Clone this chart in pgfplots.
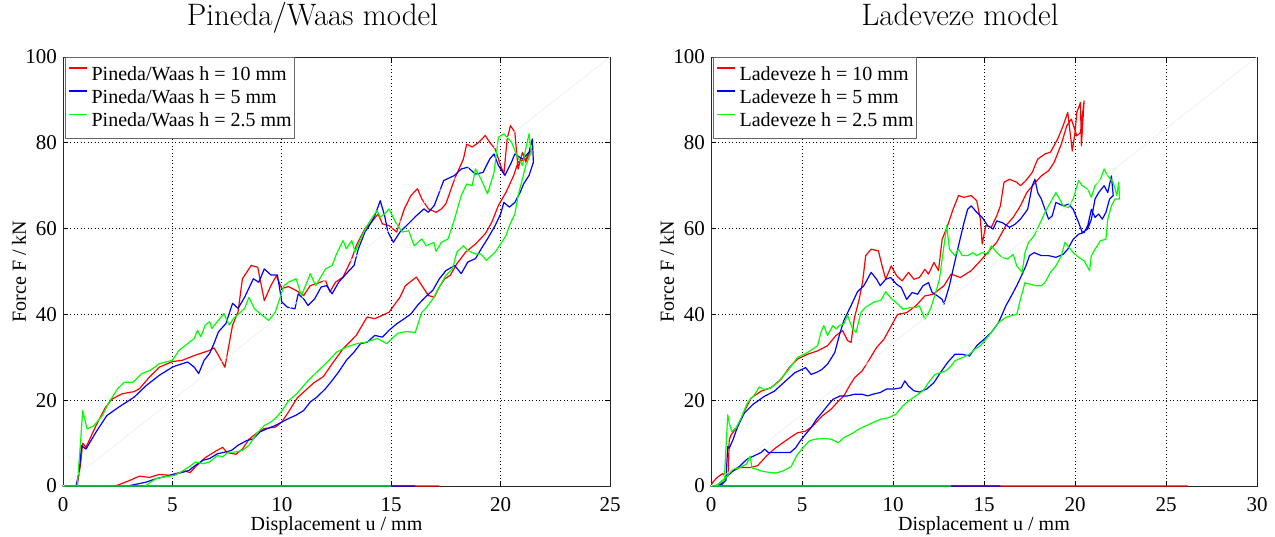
\documentclass[border=0pt]{standalone}
\usepackage{fontspec}
\usepackage{pgfplots}
\pgfplotsset{compat=1.18}
\newfontfamily\tnr{Liberation Serif}
\begin{document}
\begin{tikzpicture}[x=1pt,y=1pt]
\useasboundingbox (0,0) rectangle (1275,-537);
\pgfplotsset{
 myaxis/.style={
  scale only axis, width=547pt, height=429pt,
  ymin=0, ymax=100, ytick={0,20,...,100},
  grid=major, major grid style={black, line width=0.9pt, dash pattern=on 0.9pt off 2.6pt},
  axis line style={black!85, line width=0.9pt},
  tick style={black, line width=0.8pt},
  tick align=inside, major tick length=5pt,
  /pgf/number format/assume math mode=true,
  tick label style={font=\tnr\fontsize{21}{21}\selectfont},
  xticklabel style={anchor=base, inner sep=0pt, yshift=-25.7pt},
  yticklabel style={anchor=east, inner sep=0pt, xshift=-6pt},
  label style={font=\tnr\fontsize{20}{20}\selectfont},
  xlabel style={at={(axis description cs:0.5,-0.1026)}, anchor=base},
  ylabel style={at={(axis description cs:-0.0804,0.5)}, anchor=center},
  title style={font=\fontsize{31}{31}\selectfont, at={(axis description cs:0.4561,1.059)}, anchor=base},
  xlabel={Displacement u / mm}, ylabel={Force F / kN},
  legend style={at={(axis description cs:0.004,1)}, anchor=north west, draw=black!60, line width=0.8pt,
    font=\tnr\fontsize{20}{20}\selectfont,
    nodes={inner sep=0pt, text height=17pt, text depth=6.3pt},
    inner xsep=3pt, inner ysep=5.7pt, row sep=0pt, column sep=3.4pt},
  legend cell align=left,
  legend image code/.code={\draw[#1,line width=1.6pt] (0pt,7pt) -- (18pt,7pt);},
  every axis plot/.append style={line width=1.2pt, line join=round},
  clip=false,
 }
}
\begin{axis}[myaxis, at={(63pt,-486pt)}, anchor=south west, xmin=0, xmax=25, xtick={0,5,...,25}, title={Pineda/Waas model}]
\addplot[color=red] coordinates {
(17.2,0) (0,0) (0.65,0) (0.8,5) (0.9,10) (1.05,9) (1.5,14) (1.95,18.4) (2.25,20.3) (2.7,21.5) (3.25,22) (3.5,22.7) (3.95,25.4) (4.4,27.7) (5.0,29) (5.45,29.3) (6.05,30.5) (6.7,31.6) (6.9,32.2) (7.1,30.5) (7.4,27.7) (7.75,37.5) (8.0,40.6) (8.2,48.3) (8.6,51.4) (8.9,51) (9.2,43.2) (9.5,46.7) (9.75,49) (10.0,46) (10.3,46.5) (10.65,45.6) (11.0,44.4) (11.3,46.7) (12.0,47.9) (12.2,45.2) (12.45,47.5) (12.8,48.7) (13.2,53) (13.4,56) (13.8,60) (14.1,61.5) (14.4,63.4) (14.6,61.1) (14.9,60.7) (15.25,59.2) (15.6,64.6) (15.9,67.7) (16.2,69.3) (16.4,66.9) (16.7,64.6) (17.05,63.8) (17.3,64.6) (17.5,65.8) (17.9,71.6) (18.3,76.2) (18.45,79.7) (18.7,79) (19.0,80.1) (19.3,81.7) (19.5,80.1) (19.75,78.6) (20.0,74.7) (20.15,72.7) (20.3,80.9) (20.45,84) (20.65,82.5) (20.8,73.9) (21.0,77.8) (21.15,75.5) (21.4,78.6)
(21.15,76.2) (20.8,75.5) (20.6,72.4) (20.25,68.5) (19.9,65.4) (19.6,61.5) (19.3,58.8) (18.85,56.4) (18.4,54.5) (18.0,51.8) (17.7,49.1) (17.45,48.3) (17.2,46.4) (16.97,44) (16.7,44.4) (16.4,46.7) (16.15,48.7) (15.65,46.7) (15.4,44) (14.9,40.5) (14.25,39) (13.9,39.4) (13.4,35.1) (12.8,32) (12.3,28.5) (11.9,25.5) (11.45,24) (10.7,20.5) (10.3,17.2) (10.0,14.9) (9.7,13.7) (9.2,13.4) (8.9,12.5) (8.5,10.9) (8.2,8.6) (7.9,7.4) (7.5,7.8) (7.3,9.0) (7.0,8.2) (6.5,6.6) (6.1,4.7) (5.8,3.1) (5.6,3.5) (5.3,3.1) (4.85,2.5) (4.4,2.7) (3.95,2.0) (3.5,2.3) (3.0,1.2) (2.5,0.2) (2.3,0)};
\addlegendentry{Pineda/Waas h = 10 mm}
\addplot[color=blue] coordinates {
(16.1,0) (0,0) (0.6,0) (0.75,4) (0.85,9.4) (1.05,8.6) (1.5,12.5) (2.0,16.4) (2.55,18.4) (3.25,20.7) (3.8,23.4) (4.4,25.8) (5.0,27.7) (5.2,28.1) (5.7,28.9) (6.0,27.7) (6.2,26.2) (6.45,29.3) (6.7,30.9) (6.9,33.2) (7.1,35.9) (7.45,37.9) (7.75,42.6) (8.0,41.4) (8.3,44) (8.7,48.3) (8.95,47.5) (9.2,50.6) (9.5,49.2) (9.8,49.2) (10.0,42.9) (10.25,41.7) (10.6,41.3) (10.75,44.8) (11.0,43.6) (11.2,42.1) (11.5,43.6) (11.8,46.4) (12.05,46.7) (12.3,44.8) (12.6,47.5) (12.95,49.5) (13.3,51.4) (13.5,55.3) (13.8,59.2) (14.0,60.7) (14.25,63) (14.5,66.5) (14.7,63) (14.85,59.2) (15.1,56.8) (15.4,59.2) (15.7,60.7) (16.15,63) (16.5,64.6) (16.7,63.8) (16.97,65.4) (17.4,71.2) (17.9,72.4) (18.2,73.9) (18.5,74.3) (18.85,72.7) (19.2,73.1) (19.5,76.2) (19.7,77.4) (19.9,74.7) (20.2,72.4) (20.5,75.5) (20.65,77.4) (21.0,76.2) (21.3,77.8) (21.45,80.9) (21.5,75.5)
(21.3,72.4) (21.05,70.4) (20.9,68.5) (20.65,66.1) (20.4,65) (20.15,66.1) (20.0,63.4) (19.75,60.7) (19.4,57.6) (19.2,56) (18.85,53) (18.5,52.2) (18.2,49.5) (17.9,51.4) (17.5,50.2) (17.2,48.3) (16.9,45.6) (16.55,44) (16.2,42.1) (15.9,40.1) (15.6,39) (15.25,37.8) (14.9,36.3) (14.6,34.7) (14.25,35.1) (13.9,33.5) (13.6,33.2) (13.3,31.2) (12.95,29.3) (12.6,26.6) (12.3,24.6) (12.0,22.7) (11.6,20.7) (11.3,19.6) (11.0,17.6) (10.65,16.5) (10.3,15.7) (10.0,14.9) (9.7,14.1) (9.35,13.4) (9.0,12.6) (8.7,11) (8.4,10.6) (8.0,9.5) (7.7,8.3) (7.4,7.9) (7.05,7.5) (6.7,6.4) (6.4,6.0) (6.05,4.8) (5.75,3.6) (5.4,3.1) (4.75,2.3) (4.25,1.7) (3.8,0.9) (3.1,0.15) (3.0,0)};
\addlegendentry{Pineda/Waas h = 5 mm}
\addplot[color=green] coordinates {
(15,0) (0,0) (0.65,0) (0.8,10) (0.9,17.6) (1.1,13.3) (1.4,14) (1.8,16.4) (2.1,19.5) (2.5,22.7) (2.8,24.2) (3.2,24.2) (3.6,26.2) (4.0,27) (4.4,28.5) (4.7,28.9) (5.0,29.3) (5.3,31.6) (5.7,33.2) (6.0,34.4) (6.15,36.3) (6.3,34.8) (6.5,37.5) (6.7,38.3) (6.8,36.7) (7.05,38.3) (7.35,40.2) (7.6,37.5) (7.8,39.1) (8.05,40.2) (8.3,41.4) (8.5,44) (8.75,41.3) (9.1,39.8) (9.4,38.6) (9.7,40.5) (9.9,43.6) (10.1,46.7) (10.3,47.5) (10.65,48.3) (10.9,44.4) (11.15,47.5) (11.3,49.5) (11.55,46.7) (12.0,50.6) (12.3,51.4) (12.5,54.1) (12.8,57.2) (12.95,55.3) (13.2,57.2) (13.35,54.5) (13.6,57.6) (13.85,60.3) (14.1,62.3) (14.35,64.2) (14.5,62.7) (14.7,63.4) (14.9,64.6) (15.2,61.5) (15.5,59.2) (15.8,59.5) (16.05,56) (16.4,57.6) (16.6,56) (16.95,56.8) (17.05,54.7) (17.3,56.8) (17.6,57.6) (17.9,62.3) (18.2,67.7) (18.45,70.4) (18.7,70) (18.85,73.9) (19.1,71.6) (19.4,68.1) (19.7,73.1) (19.9,81.3) (20.15,82.1) (20.5,80.1) (20.75,77) (21.0,74.7) (21.15,78.6) (21.3,82.1) (21.4,77.8)
(21.15,74.7) (21.0,71.6) (20.8,67.7) (20.65,63.4) (20.4,60.7) (20.25,58.4) (20.0,56.4) (19.75,54.5) (19.5,53.3) (19.35,52.6) (19.1,54.1) (18.85,54.1) (18.5,54.9) (18.3,56) (18.0,54.5) (17.8,50.6) (17.5,49.1) (17.2,46.4) (16.9,43.6) (16.6,41.5) (16.4,40.5) (16.1,35.8) (15.7,36) (15.3,35.6) (14.8,33.2) (14.36,34.4) (13.9,33.6) (13.45,33.2) (13.0,32.5) (12.5,31.2) (12.1,29) (11.77,27.4) (11.15,24.3) (10.7,21.6) (10.3,19.8) (10.0,17.5) (9.75,16) (9.5,14.9) (9.2,14.1) (8.85,12.2) (8.5,9.5) (8.2,8.3) (7.85,7.9) (7.55,7.9) (7.3,6.8) (7.05,7.1) (6.7,5.6) (6.4,5.2) (6.05,5.6) (5.75,4.4) (5.4,3.3) (5.1,2.5) (4.6,2.1) (4.25,1.7) (3.8,0.15) (3.7,0)};
\addlegendentry{Pineda/Waas h = 2.5 mm}
\addplot[black!7, line width=0.6pt, forget plot] coordinates {(0,0) (25,100)};
\end{axis}
\begin{axis}[myaxis, at={(711pt,-486pt)}, anchor=south west, width=546pt, xmin=0, xmax=30, xtick={0,5,...,30}, title={Ladeveze model}]
\addplot[color=red] coordinates {
(26.2,0) (0,0) (0.1,0.9) (0.37,2.1) (0.64,2.9) (0.82,2.1) (0.95,3) (1.0,10.7) (1.1,11.9) (1.47,13.9) (1.83,17.4) (2.2,20.5) (2.75,22.1) (3.3,22.9) (3.85,24.9) (4.3,27.6) (4.76,29.6) (5.3,30.7) (5.86,31.5) (6.4,32.7) (6.87,35.1) (7.23,36.2) (7.5,33.9) (7.7,33.5) (7.87,39) (8.15,43.7) (8.33,47.6) (8.5,53.7) (8.8,55.2) (9.2,54.8) (9.4,51.3) (9.6,48.2) (9.9,51.3) (10.2,49) (10.5,47.8) (10.85,49.8) (11.15,48.2) (11.45,48.6) (11.75,50.5) (11.95,49.4) (12.25,52.1) (12.5,50.2) (12.7,57.5) (13.0,60.7) (13.3,64.5) (13.6,67.7) (13.9,67.3) (14.3,67.7) (14.6,66.5) (14.8,62.2) (14.9,56.4) (15.1,60.7) (15.4,60.3) (15.7,63) (15.9,65.3) (16.1,70.8) (16.4,71.5) (16.8,70.8) (17.0,70) (17.3,71.2) (17.65,73.1) (17.95,76.2) (18.35,77.4) (18.65,77.8) (19.05,80.9) (19.35,84) (19.6,87.1) (19.85,78.1) (20.0,82.4) (20.1,87.1) (20.3,89.4) (20.35,79.3) (20.5,89.8)
(20.3,82.4) (20.1,81.6) (19.8,85.5) (19.55,84) (19.25,79.7) (18.85,75.4) (18.55,73.5) (18.15,72.3) (17.75,70.4) (17.35,68.4) (17.0,65.3) (16.6,62.6) (16.2,60.7) (15.7,56.8) (15.2,54.4) (14.8,52.5) (14.3,50.2) (13.7,48.6) (13.2,49.4) (12.8,46.7) (12.2,44.7) (11.75,44.3) (11.25,42) (10.75,40.4) (10.25,40) (9.85,36.9) (9.5,34.2) (9.1,32.3) (8.7,29.5) (8.3,26.8) (7.9,25.3) (7.6,23.3) (7.3,21) (7.0,19.8) (6.6,17.9) (6.1,16.3) (5.6,14) (5.2,12.8) (4.75,12.4) (4.35,11.3) (3.95,10.1) (3.55,8.9) (3.05,7) (2.55,4.7) (2.15,4.3) (1.6,4.3) (1.2,3.5) (0.8,1.9) (0.4,0.4) (0.3,0)};
\addlegendentry{Ladeveze h = 10 mm}
\addplot[color=blue] coordinates {
(15.9,0) (0,0) (0.55,0.2) (0.82,1.3) (0.92,9.2) (1.0,8.8) (1.2,10.7) (1.47,13.9) (1.83,17) (2.3,19) (2.93,20.9) (3.48,22.1) (4.0,24.1) (4.6,26.4) (4.95,27.1) (5.2,27.6) (5.5,26) (5.86,26.6) (6.1,27.2) (6.4,28.4) (6.8,31.1) (7.05,35.1) (7.3,38.6) (7.7,42.1) (8.05,45.3) (8.4,46.7) (8.8,49.8) (9.1,48.2) (9.3,46.7) (9.6,48.2) (9.87,48.6) (10.2,47) (10.45,46.3) (10.75,43.5) (11.05,45.1) (11.35,44.7) (11.65,46.7) (11.95,47.4) (12.15,45.1) (12.45,44.3) (12.7,43.5) (12.8,42.4) (13.1,46.7) (13.3,50.5) (13.6,56) (13.9,61.4) (14.1,64.5) (14.3,65.3) (14.6,63.8) (14.9,62.6) (15.2,60.7) (15.5,59.9) (15.7,61.8) (16.0,61.4) (16.4,60.3) (16.7,61) (17.0,62.2) (17.4,64.5) (17.65,70) (17.8,71.5) (17.95,68.4) (18.15,66.9) (18.35,64.5) (18.55,62.2) (18.75,63) (18.95,66.1) (19.35,65.3) (19.65,65.7) (19.9,64.5) (20.2,61.4) (20.4,59.1) (20.7,59.9) (20.9,62.2) (21.1,66.9) (21.3,68.4) (21.6,70) (21.8,68.4) (22.0,72.3) (22.1,67.7)
(21.9,66.9) (21.7,63.8) (21.5,62.2) (21.3,63.4) (21.1,62.6) (20.9,64.5) (20.7,60.7) (20.5,59.1) (20.2,58.7) (19.9,57.5) (19.6,55.2) (19.35,54) (18.95,53.3) (18.55,53.7) (18.15,53.7) (17.75,54.4) (17.5,53.7) (17.3,51.3) (17.1,49.4) (16.8,46.7) (16.5,44.3) (16.2,42) (15.8,38.1) (15.4,35.8) (15.0,34.2) (14.6,32.7) (14.2,30.3) (13.8,30.7) (13.4,30.7) (13.0,28.8) (12.6,26.4) (12.25,24.1) (11.85,22.6) (11.45,21.9) (11.15,22.2) (10.85,23.3) (10.65,24.5) (10.45,22.9) (10.05,22.6) (9.65,22.6) (9.3,21.8) (8.9,21.4) (8.6,21) (8.3,21.4) (7.9,21.4) (7.5,21) (7.1,21) (6.7,20.2) (6.4,18.7) (6.1,17.1) (5.8,15.6) (5.5,13.6) (5.2,12.1) (4.9,10.5) (4.65,8.9) (4.35,7.8) (3.75,7.8) (3.15,7.8) (2.95,8.6) (2.75,7.8) (2.35,7) (1.95,6.2) (1.6,4.7) (1.2,3.5) (0.8,1.9) (0.5,0.4) (0.4,0)};
\addlegendentry{Ladeveze h = 5 mm}
\addplot[color=green] coordinates {
(13.2,0) (0,0) (0.3,0.15) (0.73,1.3) (0.92,16.6) (1.0,14.7) (1.14,12.7) (1.37,13.5) (1.65,15.8) (2.0,19.4) (2.4,21.3) (2.65,23.1) (2.93,22.5) (3.3,22.9) (3.66,24.1) (4.2,26.8) (4.76,30) (5.3,31.1) (5.86,32.7) (6.04,35.8) (6.2,37.4) (6.4,35.1) (6.7,37.4) (6.87,36.6) (7.05,37.4) (7.3,37.8) (7.5,39.8) (7.78,36.6) (7.97,35.8) (8.24,40.5) (8.5,41.7) (8.97,42.9) (9.34,43.3) (9.6,45.3) (9.9,43.7) (10.25,42.5) (10.55,41.2) (10.95,41.6) (11.25,41.6) (11.45,42) (11.75,38.9) (12.05,41.2) (12.35,45.1) (12.55,48.2) (12.75,54.4) (12.95,60.7) (13.1,55.2) (13.4,53.7) (13.6,55.2) (13.8,53.7) (14.1,53.7) (14.4,54.4) (14.6,53.7) (14.9,54.4) (15.2,54) (15.4,56) (15.7,54.4) (16.0,53.3) (16.3,52.9) (16.6,54) (16.8,51.3) (17.1,49.8) (17.25,54.4) (17.45,56.8) (17.75,58.3) (18.05,61) (18.35,63.8) (18.65,66.1) (18.95,68.4) (19.15,66.9) (19.35,65.3) (19.65,64.9) (19.9,66.9) (20.2,71.2) (20.4,70) (20.7,69.2) (20.9,67.3) (21.1,70) (21.4,71.5) (21.6,73.9) (21.8,72.3) (22.1,70.8) (22.3,67.7) (22.4,70.8) (22.45,66.9)
(22.2,66.9) (22.0,65.3) (21.8,62.2) (21.7,57.5) (21.4,57.2) (21.1,55.2) (20.9,53.7) (20.8,50.2) (20.5,52.5) (20.2,53.3) (19.9,54.4) (19.6,56) (19.45,56.8) (19.25,53.7) (18.95,51.3) (18.65,49.8) (18.35,47.4) (18.15,46.7) (17.85,46.7) (17.55,47) (17.25,47.4) (17.0,43.5) (16.8,40) (16.5,39.7) (16.2,39.3) (15.8,38.1) (15.4,35.8) (15.1,34.2) (14.8,32.7) (14.5,31.9) (14.2,30.7) (13.8,29.9) (13.4,29.2) (13.2,28) (12.9,26.8) (12.6,26.4) (12.3,26) (11.95,24.1) (11.65,22.2) (11.25,21) (10.85,19.8) (10.55,18.7) (10.15,16.7) (9.75,15.9) (9.35,15.6) (8.9,14.8) (8.5,14) (8.1,13.2) (7.7,12.1) (7.3,11.3) (7.0,10.1) (6.6,10.9) (6.2,11.1) (5.7,10.9) (5.4,10.5) (4.95,8.4) (4.7,7.0) (4.4,4.5) (3.95,3.5) (3.55,3.0) (3.15,3.2) (2.75,3.5) (2.45,4.0) (2.25,4.2) (2.15,7) (1.95,5.1) (1.6,4.3) (1.2,3.9) (0.8,1.9) (0.4,0.4) (0.2,0)};
\addlegendentry{Ladeveze h = 2.5 mm}
\addplot[black!7, line width=0.6pt, forget plot] coordinates {(0,0) (30,100)};
\end{axis}
\end{tikzpicture}
\end{document}
